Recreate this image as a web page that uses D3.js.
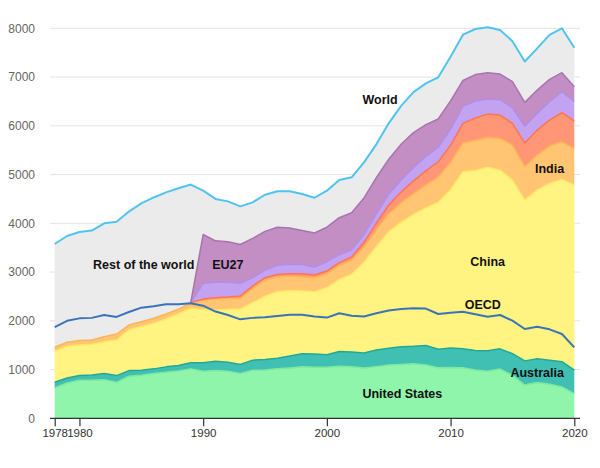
<!DOCTYPE html>
<html>
<head>
<meta charset="utf-8">
<script src="https://cdn.jsdelivr.net/npm/d3@7"></script>
<style>
  html, body { margin: 0; padding: 0; background: #fff; }
  svg { display: block; font-family: "Liberation Sans", Arial, sans-serif; }
</style>
</head>
<body>
<svg id="chart" width="600" height="468"></svg>
<script>
const years = [1978,1979,1980,1981,1982,1983,1984,1985,1986,1987,1988,1989,
  1990,1991,1992,1993,1994,1995,1996,1997,1998,1999,2000,2001,2002,
  2003,2004,2005,2006,2007,2008,2009,2010,2011,2012,2013,2014,2015,2016,2017,2018,2019,2020];

const unitedStates = [621,724,779,779,793,738,862,883,917,945,972,1014,
  966,979,966,917,986,993,1014,1034,1055,1048,1048,1070,1055,
  1030,1060,1093,1105,1120,1093,1035,1040,1035,990,965,1010,880,683,735,700,642,505];
const australia = [117,104,97,111,124,138,117,103,97,110,111,124,
  172,193,186,186,207,214,220,242,269,269,255,300,307,
  310,340,342,364,356,400,380,400,393,400,420,415,446,495,485,490,519,485];
const china = [632,652,629,627,654,730,832,893,934,982,1056,1118,
  1092,1048,1078,1137,1177,1300,1362,1347,1286,1279,1375,1479,1590,
  1860,2125,2390,2551,2704,2822,3015,3250,3630,3695,3765,3665,3560,3297,3460,3628,3739,3793];
const india = [90,80,90,89,103,123,102,102,103,102,97,120,
  190,230,225,225,294,329,301,295,294,288,288,288,288,
  310,340,370,400,430,470,520,560,594,615,612,651,718,684,718,766,772,753];
const other1 = [0,0,0,0,0,0,0,0,0,0,0,0,
  25,25,31,42,48,48,55,48,62,54,55,55,68,
  100,140,180,220,260,290,310,350,398,460,478,479,446,486,514,533,596,564];
const other2 = [0,0,0,0,0,0,0,0,0,0,0,0,
  325,315,304,263,168,156,188,194,189,162,191,164,142,
  160,190,220,250,270,290,300,330,350,350,310,315,320,345,343,377,431,394];
const eu27 = [0,0,0,0,0,0,0,0,0,0,0,0,
  1000,850,833,795,810,795,780,745,697,700,708,759,765,
  750,740,720,730,720,660,580,580,530,540,539,527,534,490,478,458,390,307];
const world = [3575,3740,3820,3850,4000,4030,4240,4410,4530,4635,4720,4795,
  4670,4500,4450,4348,4430,4586,4656,4656,4600,4524,4668,4888,4943,
  5250,5620,6050,6410,6690,6870,6994,7418,7870,7985,8020,7965,7735,7320,7589,7865,8000,7600];
const oecd = [1870,2000,2050,2060,2120,2080,2180,2270,2300,2340,2340,2360,
  2310,2190,2118,2030,2060,2073,2097,2124,2124,2087,2066,2155,2104,
  2090,2153,2210,2240,2256,2250,2139,2166,2187,2133,2084,2119,2002,1832,1879,1825,1729,1456];

const yTicks = [0,1000,2000,3000,4000,5000,6000,7000,8000];
const xTicks = [1978,1980,1990,2000,2010,2020];

const seriesKeys = ["United States","Australia","China","India","Other 1","Other 2","EU27","Rest of the world"];
const seriesArrays = [unitedStates, australia, china, india, other1, other2, eu27];
const fills = ["#8ef5aa","#40c0b2","#fff482","#ffc572","#ff9676","#c4a2f2","#c28ec4","#ebebeb"];
const strokes = ["#7fe8a0","#22a898","#ffe866","#ffb456","#ff7452","#b08ee8","#a874ae","none"];

const table = years.map((yr, i) => {
  const row = { year: yr };
  let sum = 0;
  seriesArrays.forEach((arr, k) => { row[seriesKeys[k]] = arr[i]; sum += arr[i]; });
  row["Rest of the world"] = world[i] - sum;
  return row;
});

const svg = d3.select("#chart");
const x = d3.scaleLinear().domain([1978, 2020]).range([54.7, 574.3]);
const y = d3.scaleLinear().domain([0, 8000]).range([418.3, 28.3]);

// gridlines
svg.append("g").selectAll("line").data(yTicks.filter(d => d > 0)).join("line")
  .attr("x1", 50).attr("x2", 580)
  .attr("y1", d => y(d)).attr("y2", d => y(d))
  .attr("stroke", "#e4e4e4").attr("stroke-width", 1);

// stacked areas
const stack = d3.stack().keys(seriesKeys);
const layers = stack(table);
const area = d3.area()
  .x(d => x(d.data.year))
  .y0(d => y(d[0]))
  .y1(d => y(d[1]));
const topLine = d3.line()
  .x(d => x(d.data.year))
  .y(d => y(d[1]));

const gA = svg.append("g");
layers.forEach((layer, k) => {
  gA.append("path").datum(layer).attr("d", area).attr("fill", fills[k]);
});
layers.forEach((layer, k) => {
  if (strokes[k] === "none" ) return;
  const pts = layer.filter((d, i) => k < 4 || years[i] >= 1989);
  gA.append("path").datum(pts).attr("d", topLine)
    .attr("fill", "none").attr("stroke", strokes[k]).attr("stroke-width", 1.5)
    .attr("stroke-linejoin", "round");
});

// lines
const line = d3.line().x((d, i) => x(years[i])).y(d => y(d));
svg.append("path").datum(oecd).attr("d", line)
  .attr("fill", "none").attr("stroke", "#3b73b9").attr("stroke-width", 2).attr("stroke-linejoin", "round");
svg.append("path").datum(world).attr("d", line)
  .attr("fill", "none").attr("stroke", "#4fc4ee").attr("stroke-width", 2).attr("stroke-linejoin", "round");

// axes
const yAxis = d3.axisLeft(y).tickValues(yTicks).tickSize(0).tickPadding(0).tickFormat(d3.format("d"));
const gy = svg.append("g").attr("transform", "translate(35,0)").call(yAxis);
gy.select(".domain").remove();
gy.selectAll("text").attr("font-size", 12).attr("fill", "#666")
  .attr("font-family", "'Liberation Sans', Arial, sans-serif");

svg.append("line").attr("x1", 50).attr("x2", 580).attr("y1", y(0)).attr("y2", y(0))
  .attr("stroke", "#333").attr("stroke-width", 1.2);
const xAxis = d3.axisBottom(x).tickValues(xTicks).tickSize(8).tickPadding(3).tickFormat(d3.format("d"));
const gx = svg.append("g").attr("transform", `translate(0,${y(0)})`).call(xAxis);
gx.select(".domain").remove();
gx.selectAll("line").attr("stroke", "#333").attr("stroke-width", 1.2);
gx.selectAll("text").attr("font-size", 11.5).attr("fill", "#333")
  .attr("font-family", "'Liberation Sans', Arial, sans-serif");

// labels
const labels = [
  { t: "World", yr: 2004.3, v: 6540 },
  { t: "Rest of the world", yr: 1985.2, v: 3150 },
  { t: "EU27", yr: 1992.0, v: 3150 },
  { t: "India", yr: 2018.0, v: 5120 },
  { t: "China", yr: 2013.0, v: 3210 },
  { t: "OECD", yr: 2012.6, v: 2340 },
  { t: "Australia", yr: 2017.0, v: 935 },
  { t: "United States", yr: 2006.1, v: 513 }
];
svg.append("g").selectAll("text").data(labels).join("text")
  .attr("x", d => x(d.yr)).attr("y", d => y(d.v))
  .attr("dy", "0.35em")
  .attr("text-anchor", "middle")
  .attr("font-size", 12.5).attr("font-weight", "bold").attr("fill", "#111")
  .text(d => d.t);
</script>
</body>
</html>
